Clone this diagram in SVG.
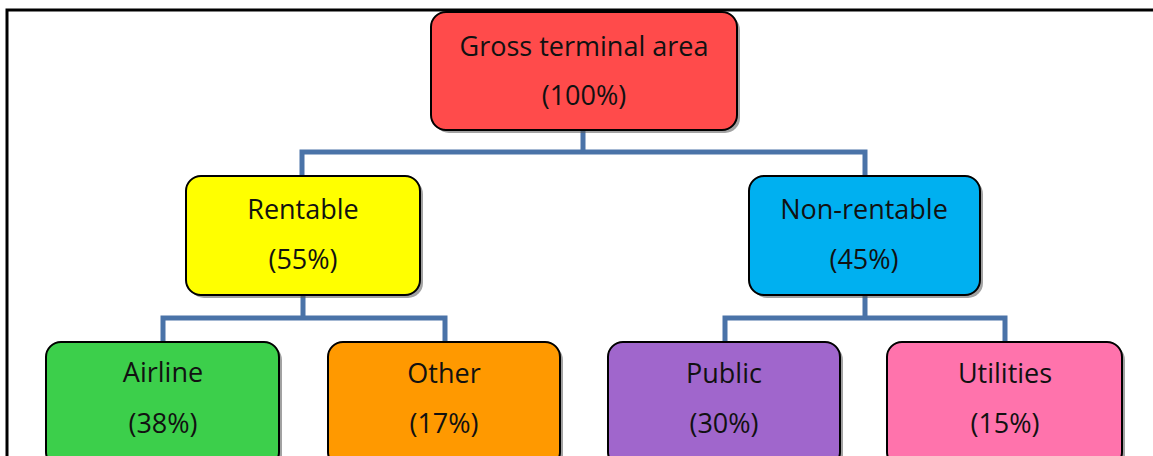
<svg xmlns="http://www.w3.org/2000/svg" width="1153" height="456" viewBox="0 0 1153 456">
  <style>
    .box { stroke: #000; stroke-width: 2; }
    .shadow { fill: #555; opacity: 0.55; }
    .label { font-family: "Open Sans", "Liberation Sans", sans-serif; font-size: 27px; fill: #111; text-anchor: middle; }
    .link { fill: none; stroke: #4a73a8; stroke-width: 5; }
  </style>
  <rect width="1153" height="456" fill="#fff"/>
  <!-- frame -->
  <path d="M7 456 V10 H1153" fill="none" stroke="#000" stroke-width="3"/>

  <g id="connectors">
    <path class="link" d="M583 130 V152 M302 176 V152 H865 V176"/>
    <path class="link" d="M303 295 V318 M163 342 V318 H445 V342"/>
    <path class="link" d="M865 295 V318 M725 342 V318 H1005 V342"/>
  </g>

  <g id="gross">
    <rect class="shadow" x="434" y="15" width="306" height="118" rx="15"/>
    <rect class="box" x="431" y="12" width="306" height="118" rx="15" fill="#ff4b4b"/>
    <text class="label" x="584" y="56">Gross terminal area</text>
    <text class="label" x="584" y="105">(100%)</text>
  </g>

  <g id="rentable">
    <rect class="shadow" x="189" y="179" width="234" height="119" rx="15"/>
    <rect class="box" x="186" y="176" width="234" height="119" rx="15" fill="#ffff00"/>
    <text class="label" x="303" y="219">Rentable</text>
    <text class="label" x="303" y="269">(55%)</text>
  </g>

  <g id="nonrentable">
    <rect class="shadow" x="752" y="179" width="231" height="119" rx="15"/>
    <rect class="box" x="749" y="176" width="231" height="119" rx="15" fill="#00b0f0"/>
    <text class="label" x="864" y="219">Non-rentable</text>
    <text class="label" x="864" y="269">(45%)</text>
  </g>

  <g id="airline">
    <rect class="shadow" x="49" y="345" width="233" height="125" rx="15"/>
    <rect class="box" x="46" y="342" width="233" height="125" rx="15" fill="#3ccf4b"/>
    <text class="label" x="163" y="382">Airline</text>
    <text class="label" x="163" y="433">(38%)</text>
  </g>

  <g id="other">
    <rect class="shadow" x="331" y="345" width="232" height="125" rx="15"/>
    <rect class="box" x="328" y="342" width="232" height="125" rx="15" fill="#ff9900"/>
    <text class="label" x="444" y="383">Other</text>
    <text class="label" x="444" y="433">(17%)</text>
  </g>

  <g id="public">
    <rect class="shadow" x="611" y="345" width="232" height="125" rx="15"/>
    <rect class="box" x="608" y="342" width="232" height="125" rx="15" fill="#a066cc"/>
    <text class="label" x="724" y="383">Public</text>
    <text class="label" x="724" y="433">(30%)</text>
  </g>

  <g id="utilities">
    <rect class="shadow" x="890" y="345" width="235" height="125" rx="15"/>
    <rect class="box" x="887" y="342" width="235" height="125" rx="15" fill="#ff73ac"/>
    <text class="label" x="1005" y="383">Utilities</text>
    <text class="label" x="1005" y="433">(15%)</text>
  </g>
</svg>
